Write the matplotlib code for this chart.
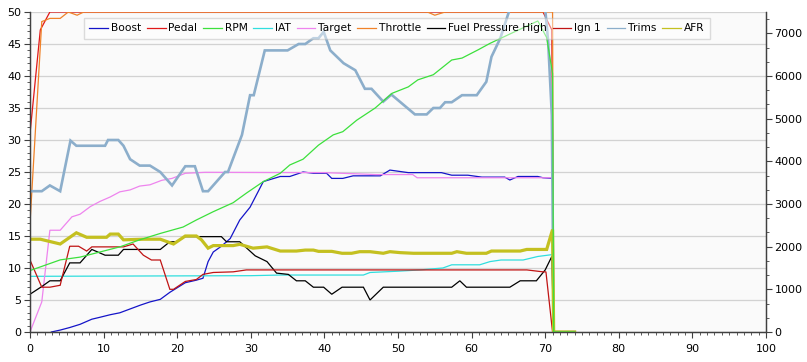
import matplotlib
matplotlib.use('Agg')
import matplotlib.pyplot as plt
from matplotlib.ticker import MultipleLocator
from matplotlib.lines import Line2D

plt.rcParams['font.family'] = ['DejaVu Sans']
plt.rcParams['font.size'] = 8

# Log samples (time, value)
boost_t = [0, 1.6, 2.9, 4.1, 5.4, 6.8, 8.4, 9.5, 10.9, 12.2, 13.6, 15.0, 16.3, 17.7, 19.0,
           21.1, 22.6, 23.5, 24.2, 24.9, 26.0, 27.2, 28.5, 29.9, 31.7, 34.0, 35.3, 37.1,
           38.5, 40.3, 41.0, 42.5, 43.9, 47.6, 48.9, 51.4, 55.9, 57.3, 59.5, 61.4, 64.5,
           65.2, 66.3, 69.0, 69.7, 71.0, 71.15, 74.0]
boost = [-3, -1.5, 0, 0.3, 0.7, 1.2, 2.0, 2.3, 2.7, 3.0, 3.6, 4.2, 4.7, 5.1, 6.2,
         7.7, 8.1, 8.4, 11.0, 12.5, 13.4, 14.6, 17.5, 19.5, 23.5, 24.3, 24.3, 25.0,
         24.8, 24.8, 24.0, 24.0, 24.4, 24.4, 25.3, 24.9, 24.9, 24.5, 24.5, 24.2, 24.2,
         23.75, 24.3, 24.3, 24.1, 24.0, 0, 0]

pedal_t = [0, 1.4, 2.7, 69.7, 70.9, 71.15, 74.0]
pedal = [31, 47.2, 50, 50, 47.2, 0, 0]

rpm_t = [0, 4.1, 6.8, 9.5, 12.2, 14.9, 17.7, 20.8, 22.6, 24.9, 27.6, 29.4, 31.7, 34.0,
         35.3, 37.1, 39.2, 41.2, 42.5, 44.4, 46.9, 49.2, 51.4, 52.7, 54.8, 57.3, 58.7,
         60.9, 62.5, 64.9, 69.0, 70.2, 71.0, 71.15, 74.0]
rpm = [1440, 1690, 1755, 1875, 1995, 2160, 2310, 2460, 2625, 2820, 3030, 3255, 3525, 3720,
       3915, 4050, 4380, 4620, 4695, 4965, 5250, 5595, 5745, 5910, 6030, 6375, 6420,
       6615, 6765, 6960, 7290, 6900, 6060, 0, 0]

iat_t = [0, 30, 34, 45.3, 46.2, 50, 53, 56.1, 57.3, 61.1, 62.5, 64, 67, 69, 71.0, 71.15, 74.0]
iat = [8.7, 8.8, 8.9, 8.9, 9.3, 9.5, 9.7, 10.0, 10.5, 10.5, 11.0, 11.25, 11.25, 11.8, 12.1, 0, 0]

target_t = [0, 1.6, 2.7, 4.1, 5.7, 6.8, 8.2, 9.5, 10.9, 12.2, 13.6, 14.9, 16.3, 17.9,
            19.3, 21.1, 23.8, 40.0, 47.0, 52.0, 52.6, 71.0, 71.15, 74.0]
target = [0, 4.7, 15.9, 15.9, 18.0, 18.4, 19.6, 20.4, 21.1, 21.9, 22.2, 22.8, 23.0, 23.7,
          24.0, 24.8, 24.95, 24.9, 24.6, 24.6, 24.1, 24.1, 0, 0]

throttle_t = [0, 1.6, 2.7, 4.1, 5.2, 6.4, 7.3, 54.0, 55.0, 56.4, 71.0, 71.15, 74.0]
throttle = [17, 48.5, 49, 49, 50, 49.5, 50, 50, 49.5, 50, 50, 0, 0]

fuel_t = [0, 1.6, 2.7, 4.1, 5.4, 6.8, 8.4, 10.2, 12.0, 12.7, 17.7, 19.0, 19.9, 21.1, 26.0,
          26.7, 28.5, 30.6, 32.2, 33.5, 35.1, 36.2, 37.4, 38.5, 39.9, 41.0, 42.4, 45.3,
          46.2, 48.0, 57.3, 58.4, 59.3, 65.2, 66.6, 68.8, 70.0, 70.9, 71.15, 74.0]
fuel = [5.9, 7.1, 8.0, 8.0, 10.8, 10.8, 12.9, 12.0, 12.0, 12.9, 12.9, 14.1, 14.1, 14.9, 14.9,
        14.1, 14.1, 11.9, 11.0, 9.2, 9.0, 8.0, 8.0, 7.0, 7.0, 5.9, 7.0, 7.0,
        5.0, 7.0, 7.0, 8.0, 7.0, 7.0, 8.0, 8.0, 9.7, 11.8, 0, 0]

ign_t = [0, 1.6, 2.7, 4.1, 5.4, 6.6, 7.7, 8.4, 12.7, 14.0, 15.4, 16.5, 17.7, 19.0, 19.5,
         21.1, 22.6, 23.5, 24.9, 27.6, 29.4, 67.5, 69.7, 70.1, 71.0, 74.0]
ign = [11.25, 7.0, 7.0, 7.3, 13.4, 13.4, 12.65, 13.3, 13.3, 13.75, 12.0, 11.25, 11.25, 6.67, 6.67,
       7.9, 8.2, 9.0, 9.3, 9.4, 9.7, 9.7, 9.4, 9.4, 0, 0]

trims_t = [0, 1.6, 2.7, 4.1, 5.5, 6.3, 10.2, 10.6, 12.0, 12.7, 13.6, 14.9, 16.3, 17.7, 19.3,
           21.1, 22.4, 23.5, 24.2, 26.5, 26.9, 28.8, 29.9, 30.4, 31.9, 35.0, 36.5, 37.4,
           38.5, 39.2, 39.9, 40.8, 42.6, 44.2, 45.5, 46.4, 48.0, 49.1, 52.3, 53.9, 54.8,
           55.7, 56.4, 57.3, 58.7, 60.7, 62.0, 62.7, 63.9, 65.2, 65.6, 69.8, 70.4, 70.9,
           71.15, 74.0]
trims = [22.0, 22.0, 22.9, 22.0, 29.9, 29.1, 29.1, 30.0, 30.0, 29.1, 27.0, 26.0, 26.0, 25.0, 22.9,
         25.9, 25.9, 22.0, 22.0, 25.0, 25.0, 30.8, 37.0, 37.0, 44.0, 44.0, 45.0, 45.0,
         45.9, 45.9, 46.9, 44.0, 42.0, 40.9, 38.0, 38.0, 36.0, 37.1, 34.0, 34.0, 35.0,
         35.0, 35.9, 35.9, 37.0, 37.0, 39.1, 43.0, 45.9, 50.5, 53.0, 53.0, 45.4, 33.9,
         0, 0]

afr_t = [0, 1.4, 4.1, 6.3, 7.7, 10.4, 10.9, 12.0, 12.7, 15.4, 17.7, 19.5, 21.1, 22.6, 23.3,
         24.2, 24.9, 27.6, 28.5, 30.3, 32.2, 34.0, 36.2, 37.4, 38.5, 39.2, 41.0, 42.4, 43.7,
         44.8, 46.2, 48.0, 48.9, 50.3, 52.1, 57.3, 58.0, 59.3, 62.0, 62.7, 66.6, 67.5, 70.2,
         71.0, 71.15, 74.0]
afr = [14.5, 14.5, 13.75, 15.5, 14.8, 14.8, 15.3, 15.3, 14.4, 14.5, 14.5, 13.75, 15.0, 15.0, 14.4,
       13.1, 13.5, 13.5, 13.7, 13.1, 13.3, 12.65, 12.65, 12.8, 12.8, 12.6, 12.6, 12.3, 12.3,
       12.55, 12.55, 12.3, 12.55, 12.4, 12.3, 12.3, 12.55, 12.3, 12.3, 12.65, 12.65, 12.9, 12.9,
       16.0, 0, 0]

series = [
    ('Boost', boost_t, boost, '#1414c8', 0.9),
    ('Pedal', pedal_t, pedal, '#e01818', 0.9),
    ('RPM', rpm_t, rpm, '#3ce03c', 0.9),
    ('IAT', iat_t, iat, '#30dede', 0.9),
    ('Target', target_t, target, '#ee84ee', 0.9),
    ('Throttle', throttle_t, throttle, '#f08228', 0.9),
    ('Fuel Pressure High', fuel_t, fuel, '#000000', 0.9),
    ('Ign 1', ign_t, ign, '#c01414', 0.9),
    ('Trims', trims_t, trims, '#8caecb', 1.9),
    ('AFR', afr_t, afr, '#c4c020', 2.3),
]

fig = plt.figure(figsize=(8.07, 3.62), dpi=100)
ax = fig.add_axes([30 / 807, 1 - 332 / 362, 736 / 807, 320 / 362])
ax.set_facecolor('#fafafa')
ax2 = ax.twinx()

handles = []
for name, t, v, color, lw in series:
    target_ax = ax2 if name == 'RPM' else ax
    target_ax.plot(t, v, color=color, lw=lw, solid_joinstyle='miter')
    handles.append(Line2D([], [], color=color, lw=0.9))

ax.set_xlim(0, 100)
ax.set_ylim(0, 50)
ax2.set_ylim(0, 7500)

ax.xaxis.set_major_locator(MultipleLocator(10))
ax.xaxis.set_minor_locator(MultipleLocator(1))
ax.yaxis.set_major_locator(MultipleLocator(5))
ax.yaxis.set_minor_locator(MultipleLocator(1))
ax2.yaxis.set_major_locator(MultipleLocator(1000))
ax2.yaxis.set_minor_locator(MultipleLocator(1000 / 3))

ax.grid(axis='y', which='major', color='#d2d2d2', lw=0.9)
ax.set_axisbelow(True)

for a in (ax, ax2):
    a.spines['top'].set_visible(False)
    for s in a.spines.values():
        s.set_color('#404040')
        s.set_linewidth(0.9)
    a.tick_params(which='major', length=4, width=0.8, color='#404040', pad=2)
    a.tick_params(which='minor', length=2, width=0.6, color='#404040')
ax.tick_params(axis='x', pad=5)

ax2.legend(handles, [s[0] for s in series], loc='upper center',
           bbox_to_anchor=(0.4985, 0.981), ncol=10, frameon=True, fancybox=False,
           framealpha=0.45, facecolor='white', edgecolor='#b4b4b4',
           handlelength=1.75, handletextpad=0.25, columnspacing=0.55,
           borderpad=0.5, borderaxespad=0, fontsize=7.7)

fig.savefig('out.png', dpi=100)
